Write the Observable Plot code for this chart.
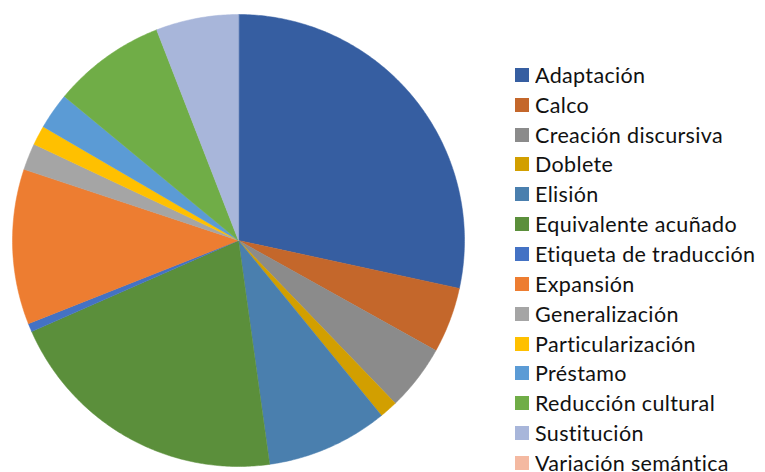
<!DOCTYPE html>
<html>
<head>
<meta charset="utf-8">
<script src="https://cdn.jsdelivr.net/npm/d3@7"></script>
<script src="https://cdn.jsdelivr.net/npm/@observablehq/plot@0.6"></script>
<style>
  html, body { margin: 0; padding: 0; background: #fff; }
  #wrap { position: relative; width: 765px; height: 472px; overflow: hidden; }
  #pie { position: absolute; left: 0; top: 0; }
  #legend { position: absolute; left: 515px; top: 60px; width: 250px; }
  .lg-swatches { font-family: Lato, "Open Sans", sans-serif !important; font-size: 21.5px !important; letter-spacing: 0.35px; color: #111 !important; margin: 0 !important; }
  .lg-swatch { height: 29.85px !important; padding-bottom: 0 !important; }
  .lg-swatch > svg { margin-right: 6px !important; }
  .lg-swatches-columns .lg-label, .lg-label { overflow: visible !important; }
</style>
</head>
<body>
<div id="wrap"><div id="pie"></div><div id="legend"></div></div>
<script>
const categories = [
  "Adaptación", "Calco", "Creación discursiva", "Doblete", "Elisión",
  "Equivalente acuñado", "Etiqueta de traducción", "Expansión", "Generalización",
  "Particularización", "Préstamo", "Reducción cultural", "Sustitución", "Variación semántica"
];
const values = [28.4, 4.7, 4.7, 1.3, 8.7, 20.6, 0.6, 11.1, 1.9, 1.4, 2.6, 8.1, 5.9, 0];
const colors = [
  "#365ea1", "#c4672b", "#8b8b8b", "#d29f00", "#4a7fae", "#5b8f3b", "#4472c4",
  "#ed7d31", "#a5a5a5", "#ffc000", "#5b9bd5", "#70ad47", "#a8b6da", "#f4b9a1"
];

const data = categories.map((c, i) => ({category: c, value: values[i]}));
const arcs = d3.pie().sort(null).value(d => d.value)(data);

// Closed slice outlines (angles clockwise from 12 o'clock), derived from the pie layout
const pts = [];
for (const a of arcs) {
  if (a.endAngle - a.startAngle <= 0) continue;
  const c = a.data.category;
  pts.push({category: c, x: 0, y: 0});
  const n = Math.max(2, Math.ceil((a.endAngle - a.startAngle) / 0.01));
  for (let k = 0; k <= n; k++) {
    const t = a.startAngle + (a.endAngle - a.startAngle) * k / n;
    pts.push({category: c, x: Math.sin(t), y: Math.cos(t)});
  }
}

const chart = Plot.plot({
  width: 476,
  height: 472,
  marginLeft: 12,
  marginRight: 12,
  marginTop: 14,
  marginBottom: 6,
  x: {domain: [-1, 1], axis: null},
  y: {domain: [-1, 1], axis: null},
  color: {domain: categories, range: colors},
  marks: [
    Plot.line(pts, {x: "x", y: "y", z: "category", fill: "category", stroke: "category", strokeWidth: 0.5, curve: "linear-closed"})
  ]
});
document.getElementById("pie").appendChild(chart);

const legend = Plot.legend({
  color: {type: "ordinal", domain: categories, range: colors},
  legend: "swatches",
  columns: 1,
  swatchSize: 14,
  className: "lg"
});
document.getElementById("legend").appendChild(legend);
</script>
</body>
</html>
